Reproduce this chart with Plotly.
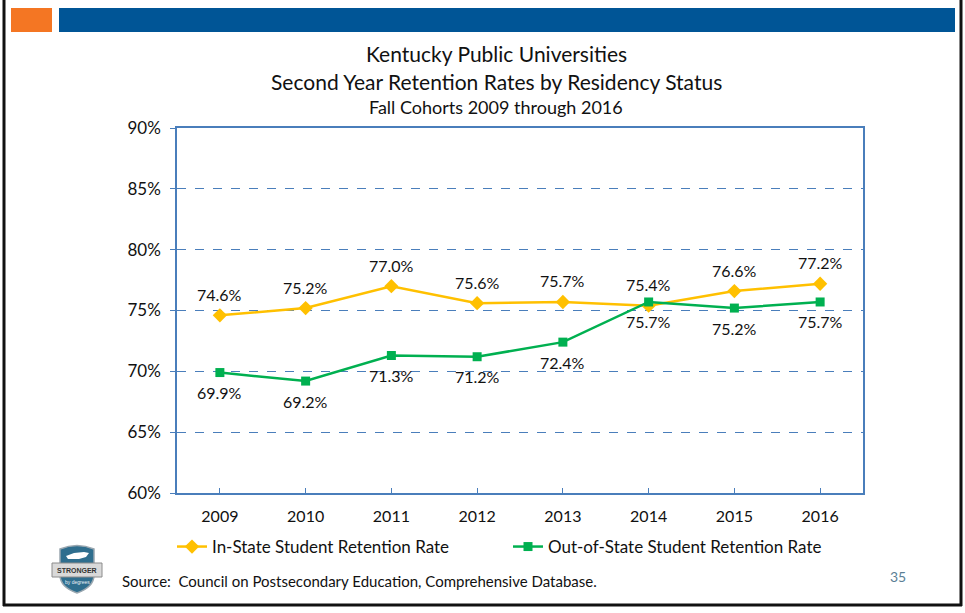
import plotly.graph_objects as go

# Fall cohort years and second-year retention rates (%)
years = [2009, 2010, 2011, 2012, 2013, 2014, 2015, 2016]
in_state = [74.6, 75.2, 77.0, 75.6, 75.7, 75.4, 76.6, 77.2]
out_of_state = [69.9, 69.2, 71.3, 71.2, 72.4, 75.7, 75.2, 75.7]
y_ticks = [60, 65, 70, 75, 80, 85, 90]

W, H = 965, 613
L, R, T, B = 177, 863, 128, 493
FONT = "Lato, Calibri, Carlito, sans-serif"
GOLD = "#FFC000"
GREEN = "#00B050"
AXIS_BLUE = "#4A7EBB"


def px(x):
    return (x - L) / (R - L)


def py(y):
    return (B - y) / (B - T)


fig = go.Figure()
fig.add_trace(go.Scatter(
    x=years, y=in_state, name="In-State Student Retention Rate",
    mode="lines+markers", line=dict(color=GOLD, width=2.5),
    marker=dict(symbol="diamond", size=11, color=GOLD),
))
fig.add_trace(go.Scatter(
    x=years, y=out_of_state, name="Out-of-State Student Retention Rate",
    mode="lines+markers", line=dict(color=GREEN, width=2.5),
    marker=dict(symbol="square", size=9, color=GREEN),
))

annotations = []
for x, v in zip(years, in_state):
    annotations.append(dict(x=x, y=v, text=f"{v:.1f}%", showarrow=False,
                            yshift=21, font=dict(size=16, color="#111")))
for x, v in zip(years, out_of_state):
    annotations.append(dict(x=x, y=v, text=f"{v:.1f}%", showarrow=False,
                            yshift=-20, font=dict(size=16, color="#111")))

# titles
for text, y, size in [("Kentucky Public Universities", 54, 21),
                      ("Second Year Retention Rates by Residency Status", 81, 21),
                      ("Fall Cohorts 2009 through 2016", 107, 18)]:
    annotations.append(dict(xref="paper", yref="paper", x=px(496), y=py(y),
                            text=text, showarrow=False, xanchor="center",
                            yanchor="middle", font=dict(size=size, color="#111")))

annotations.append(dict(xref="paper", yref="paper", x=px(120), y=py(581),
                        text="Source:  Council on Postsecondary Education, Comprehensive Database.",
                        showarrow=False, xanchor="left", yanchor="middle",
                        font=dict(size=15, color="#111")))
annotations.append(dict(xref="paper", yref="paper", x=px(898), y=py(576),
                        text="35", showarrow=False, xanchor="center", yanchor="middle",
                        font=dict(size=14, color="#5B7F95")))
# badge text
annotations.append(dict(xref="paper", yref="paper", x=px(77), y=py(570),
                        text="<b>STRONGER</b>", showarrow=False, xanchor="center",
                        yanchor="middle", font=dict(size=7, color="#333", family="Liberation Sans")))
annotations.append(dict(xref="paper", yref="paper", x=px(77), y=py(582),
                        text="by degrees", showarrow=False, xanchor="center",
                        yanchor="middle", font=dict(size=5, color="#e8f0f5", family="Liberation Sans")))

shapes = [
    # header bars
    dict(type="rect", xref="paper", yref="paper", x0=px(11), x1=px(52), y0=py(8), y1=py(32),
         fillcolor="#F47623", line=dict(width=0), layer="below"),
    dict(type="rect", xref="paper", yref="paper", x0=px(59), x1=px(955), y0=py(8), y1=py(32),
         fillcolor="#005596", line=dict(width=0), layer="below"),
    # slide frame
    dict(type="line", xref="paper", yref="paper", x0=px(4), x1=px(4), y0=py(0), y1=py(606),
         line=dict(color="#111", width=3)),
    dict(type="line", xref="paper", yref="paper", x0=px(961), x1=px(961), y0=py(0), y1=py(606),
         line=dict(color="#111", width=3)),
    dict(type="line", xref="paper", yref="paper", x0=px(3), x1=px(962), y0=py(605), y1=py(605),
         line=dict(color="#111", width=3)),
]

# shield badge
def shield_path(x0, x1, y0, y1):
    xm = (x0 + x1) / 2
    return (f"M{px(x0)},{py(y0 + 4)} Q{px(xm)},{py(y0 - 3)} {px(x1)},{py(y0 + 4)} "
            f"L{px(x1)},{py(y1 - 18)} Q{px(x1)},{py(y1 - 6)} {px(xm)},{py(y1)} "
            f"Q{px(x0)},{py(y1 - 6)} {px(x0)},{py(y1 - 18)} Z")


shapes.append(dict(type="path", xref="paper", yref="paper",
                   path=shield_path(60, 94, 545, 593), fillcolor="#2F6E8E",
                   line=dict(color="#9AA7B0", width=1.5)))
shapes.append(dict(type="path", xref="paper", yref="paper",
                   path=(f"M{px(66)},{py(556)} L{px(74)},{py(553)} L{px(84)},{py(552)} "
                         f"L{px(89)},{py(553)} L{px(86)},{py(557)} L{px(79)},{py(559)} "
                         f"L{px(68)},{py(559)} Z"),
                   fillcolor="#FFFFFF", line=dict(width=0)))
shapes.append(dict(type="rect", xref="paper", yref="paper", x0=px(52), x1=px(102),
                   y0=py(563), y1=py(577), fillcolor="#D9D9D9",
                   line=dict(color="#8C8C8C", width=1)))

fig.update_layout(
    width=W, height=H,
    margin=dict(l=L, r=W - R, t=T, b=H - B),
    paper_bgcolor="white", plot_bgcolor="white",
    font=dict(family=FONT, size=15, color="#111"),
    showlegend=True,
    legend=dict(orientation="h", x=px(172), y=py(547), xanchor="left", yanchor="middle",
                entrywidth=291, entrywidthmode="pixels",
                font=dict(size=17, color="#111"), bgcolor="rgba(0,0,0,0)"),
    xaxis=dict(range=[2008.5, 2016.5], tickmode="array", tickvals=years,
               ticktext=[str(y) for y in years], showgrid=False, zeroline=False,
               showline=True, linecolor=AXIS_BLUE, linewidth=1.5, mirror=True,
               ticks="inside", ticklen=5, tickcolor=AXIS_BLUE, ticklabelstandoff=8,
               tickfont=dict(size=16)),
    yaxis=dict(range=[60, 90], tickmode="array", tickvals=y_ticks,
               ticktext=[f"{v}%" for v in y_ticks], showgrid=True,
               gridcolor=AXIS_BLUE, griddash="dash", gridwidth=1, zeroline=False,
               showline=True, linecolor=AXIS_BLUE, linewidth=1.5, mirror=True,
               ticks="outside", ticklen=5, tickcolor=AXIS_BLUE, ticklabelstandoff=6,
               tickfont=dict(size=17)),
    annotations=annotations,
    shapes=shapes,
)

fig.write_html("out.html")
